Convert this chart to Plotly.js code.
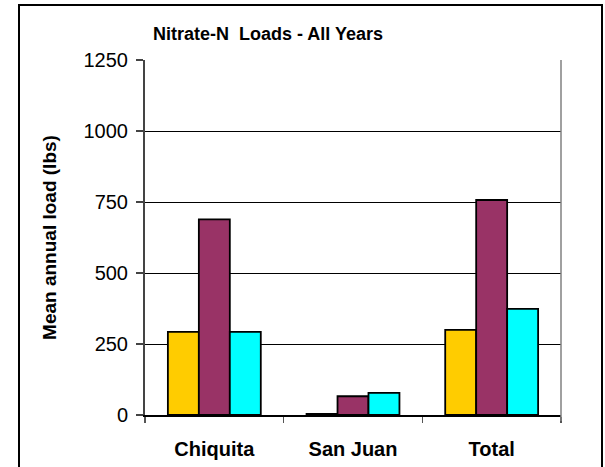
<!DOCTYPE html>
<html>
<head>
<meta charset="utf-8">
<script src="https://cdn.plot.ly/plotly-3.0.1.min.js"></script>
<style>
  html, body { margin: 0; padding: 0; background: #fff; }
  #wrap { position: relative; width: 605px; height: 467px; overflow: hidden; }
  #chart { position: absolute; left: 0; top: 0; width: 605px; height: 467px; }
  #frame { position: absolute; left: 18px; top: 4px; width: 585px; height: 480px;
           border: 2px solid #000; pointer-events: none; box-sizing: border-box; }
</style>
</head>
<body>
<div id="wrap">
  <div id="chart"></div>
  <div id="frame"></div>
</div>
<script>
const categories = ["Chiquita", "San Juan", "Total"];
const seriesNames = ["Series 1", "Series 2", "Series 3"];
const series1 = [293, 4, 300];
const series2 = [689, 66, 757];
const series3 = [293, 78, 374];
const yTicks = [0, 250, 500, 750, 1000, 1250];
const colors = ["#FFCC00", "#993366", "#00FFFF"];

const allSeries = [series1, series2, series3];
const traces = allSeries.map((vals, i) => ({
  type: "bar",
  name: seriesNames[i],
  x: categories,
  y: vals,
  marker: { color: colors[i], line: { color: "#000", width: 1.8 } },
  showlegend: false,
  hoverinfo: "x+y"
}));

const L = 145, R = 605 - 561, T = 59.5, B = 467 - 415.5;

const layout = {
  width: 605, height: 467,
  margin: { l: L, r: R, t: T, b: B, pad: 0 },
  paper_bgcolor: "#fff",
  plot_bgcolor: "#fff",
  font: { family: "Liberation Sans, Arial, sans-serif", color: "#000" },
  title: {
    text: "<b>Nitrate-N  Loads - All Years</b>",
    font: { size: 18, family: "Liberation Sans, Arial, sans-serif", color: "#000" },
    xref: "container", x: 268 / 605, xanchor: "center",
    yref: "container", y: 1 - 33.5 / 467, yanchor: "middle"
  },
  barmode: "group",
  bargap: 0.33,
  bargroupgap: 0,
  xaxis: {
    type: "category",
    showline: true, linecolor: "#000", linewidth: 1.5,
    ticks: "outside", tickson: "boundaries", ticklen: 6, tickcolor: "#555", tickwidth: 1.5,
    tickfont: { size: 20, family: "Liberation Sans, Arial, sans-serif", color: "#000", weight: "bold" },
    ticklabelstandoff: 15,
    showgrid: false, zeroline: false, fixedrange: true
  },
  yaxis: {
    range: [0, 1250],
    tickvals: yTicks,
    ticktext: yTicks.map(String),
    showline: true, linecolor: "#444", linewidth: 2,
    ticks: "outside", ticklen: 7, tickcolor: "#444", tickwidth: 1.5,
    ticklabelstandoff: 4,
    tickfont: { size: 20, family: "Liberation Sans, Arial, sans-serif", color: "#000" },
    showgrid: true, gridcolor: "#000", gridwidth: 1,
    zeroline: false, fixedrange: true,
    title: {
      text: "<b>Mean annual load (lbs)</b>",
      font: { size: 19, family: "Liberation Sans, Arial, sans-serif", color: "#000" },
      standoff: 22
    }
  },
  shapes: [
    { type: "line", xref: "paper", yref: "paper", x0: 1, x1: 1, y0: -0.017, y1: 1,
      line: { color: "#808080", width: 1.5 } }
  ]
};

Plotly.newPlot("chart", traces, layout, { displayModeBar: false, staticPlot: true });
</script>
</body>
</html>
